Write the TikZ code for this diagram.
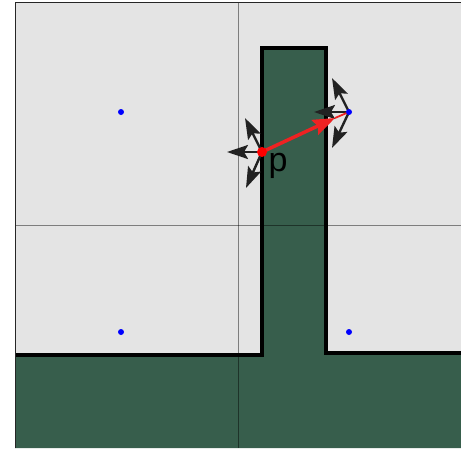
\documentclass[tikz,border=0pt]{standalone}
\usepackage{fontspec}
\setmainfont{Liberation Sans}
\usetikzlibrary{arrows.meta}
\definecolor{cellgray}{HTML}{E4E4E4}
\definecolor{solidgreen}{HTML}{375E4C}
\definecolor{arrowred}{HTML}{EE2222}
\definecolor{arrowblack}{HTML}{222222}
\tikzset{
  gridline/.style={black, opacity=0.45, line width=1pt},
  wall/.style={black, line width=3.5pt, line join=miter},
  normalarrow/.style={draw=arrowblack, line width=2.4pt, -{Stealth[length=21pt,width=14pt,inset=4pt]}},
  samplepoint/.style={circle, fill=blue, inner sep=0pt, minimum size=6pt},
  querypoint/.style={circle, fill=red, inner sep=0pt, minimum size=10pt},
}
\begin{document}
\begin{tikzpicture}[x=1pt, y=-1pt]
\useasboundingbox (0,0) rectangle (461,448);
% cells
\fill[cellgray] (15,2) rectangle (461,448);
% solid region
\fill[solidgreen] (15,355) -- (262,355) -- (262,48) -- (326,48) -- (326,353) -- (461,353) -- (461,448) -- (15,448) -- cycle;
\draw[wall] (15,355) -- (262,355) -- (262,48) -- (326,48) -- (326,353) -- (461,353);
% grid
\draw[gridline] (238,2) -- (238,448);
\draw[gridline] (15,225) -- (461,225);
\draw[black!85, line width=1pt] (15,448) -- (15,2) -- (461,2);
% coordinates
\coordinate (p) at (262,152);
\coordinate (q) at (349,112);
\coordinate (pl) at (227,152);
\coordinate (pu) at (245,118);
\coordinate (pd) at (246,188);
\coordinate (ql) at (314,112);
\coordinate (qu) at (332,78);
\coordinate (qd) at (332,148);
\coordinate (tip) at (335,118);
% normal arrows
\draw[normalarrow] (p) -- (pl);
\draw[normalarrow] (p) -- (pu);
\draw[normalarrow] (p) -- (pd);
\draw[normalarrow] (q) -- (ql);
\draw[normalarrow] (q) -- (qu);
\draw[normalarrow] (q) -- (qd);
% red displacement arrow
\draw[arrowred, line width=1.8pt] (tip) -- (q);
\draw[arrowred, line width=3.5pt, -{Stealth[length=22pt,width=16pt,inset=3pt]}] (p) -- (tip);
% points
\node[samplepoint] (s1) at (121,112) {};
\node[samplepoint] (s2) at (q) {};
\node[samplepoint] (s3) at (121,332) {};
\node[samplepoint] (s4) at (349,332) {};
\node[querypoint] (pp) at (p) {};
\node[font=\fontsize{34}{38}\selectfont, text=black] (plabel) at (278,166) {p};
\end{tikzpicture}
\end{document}
